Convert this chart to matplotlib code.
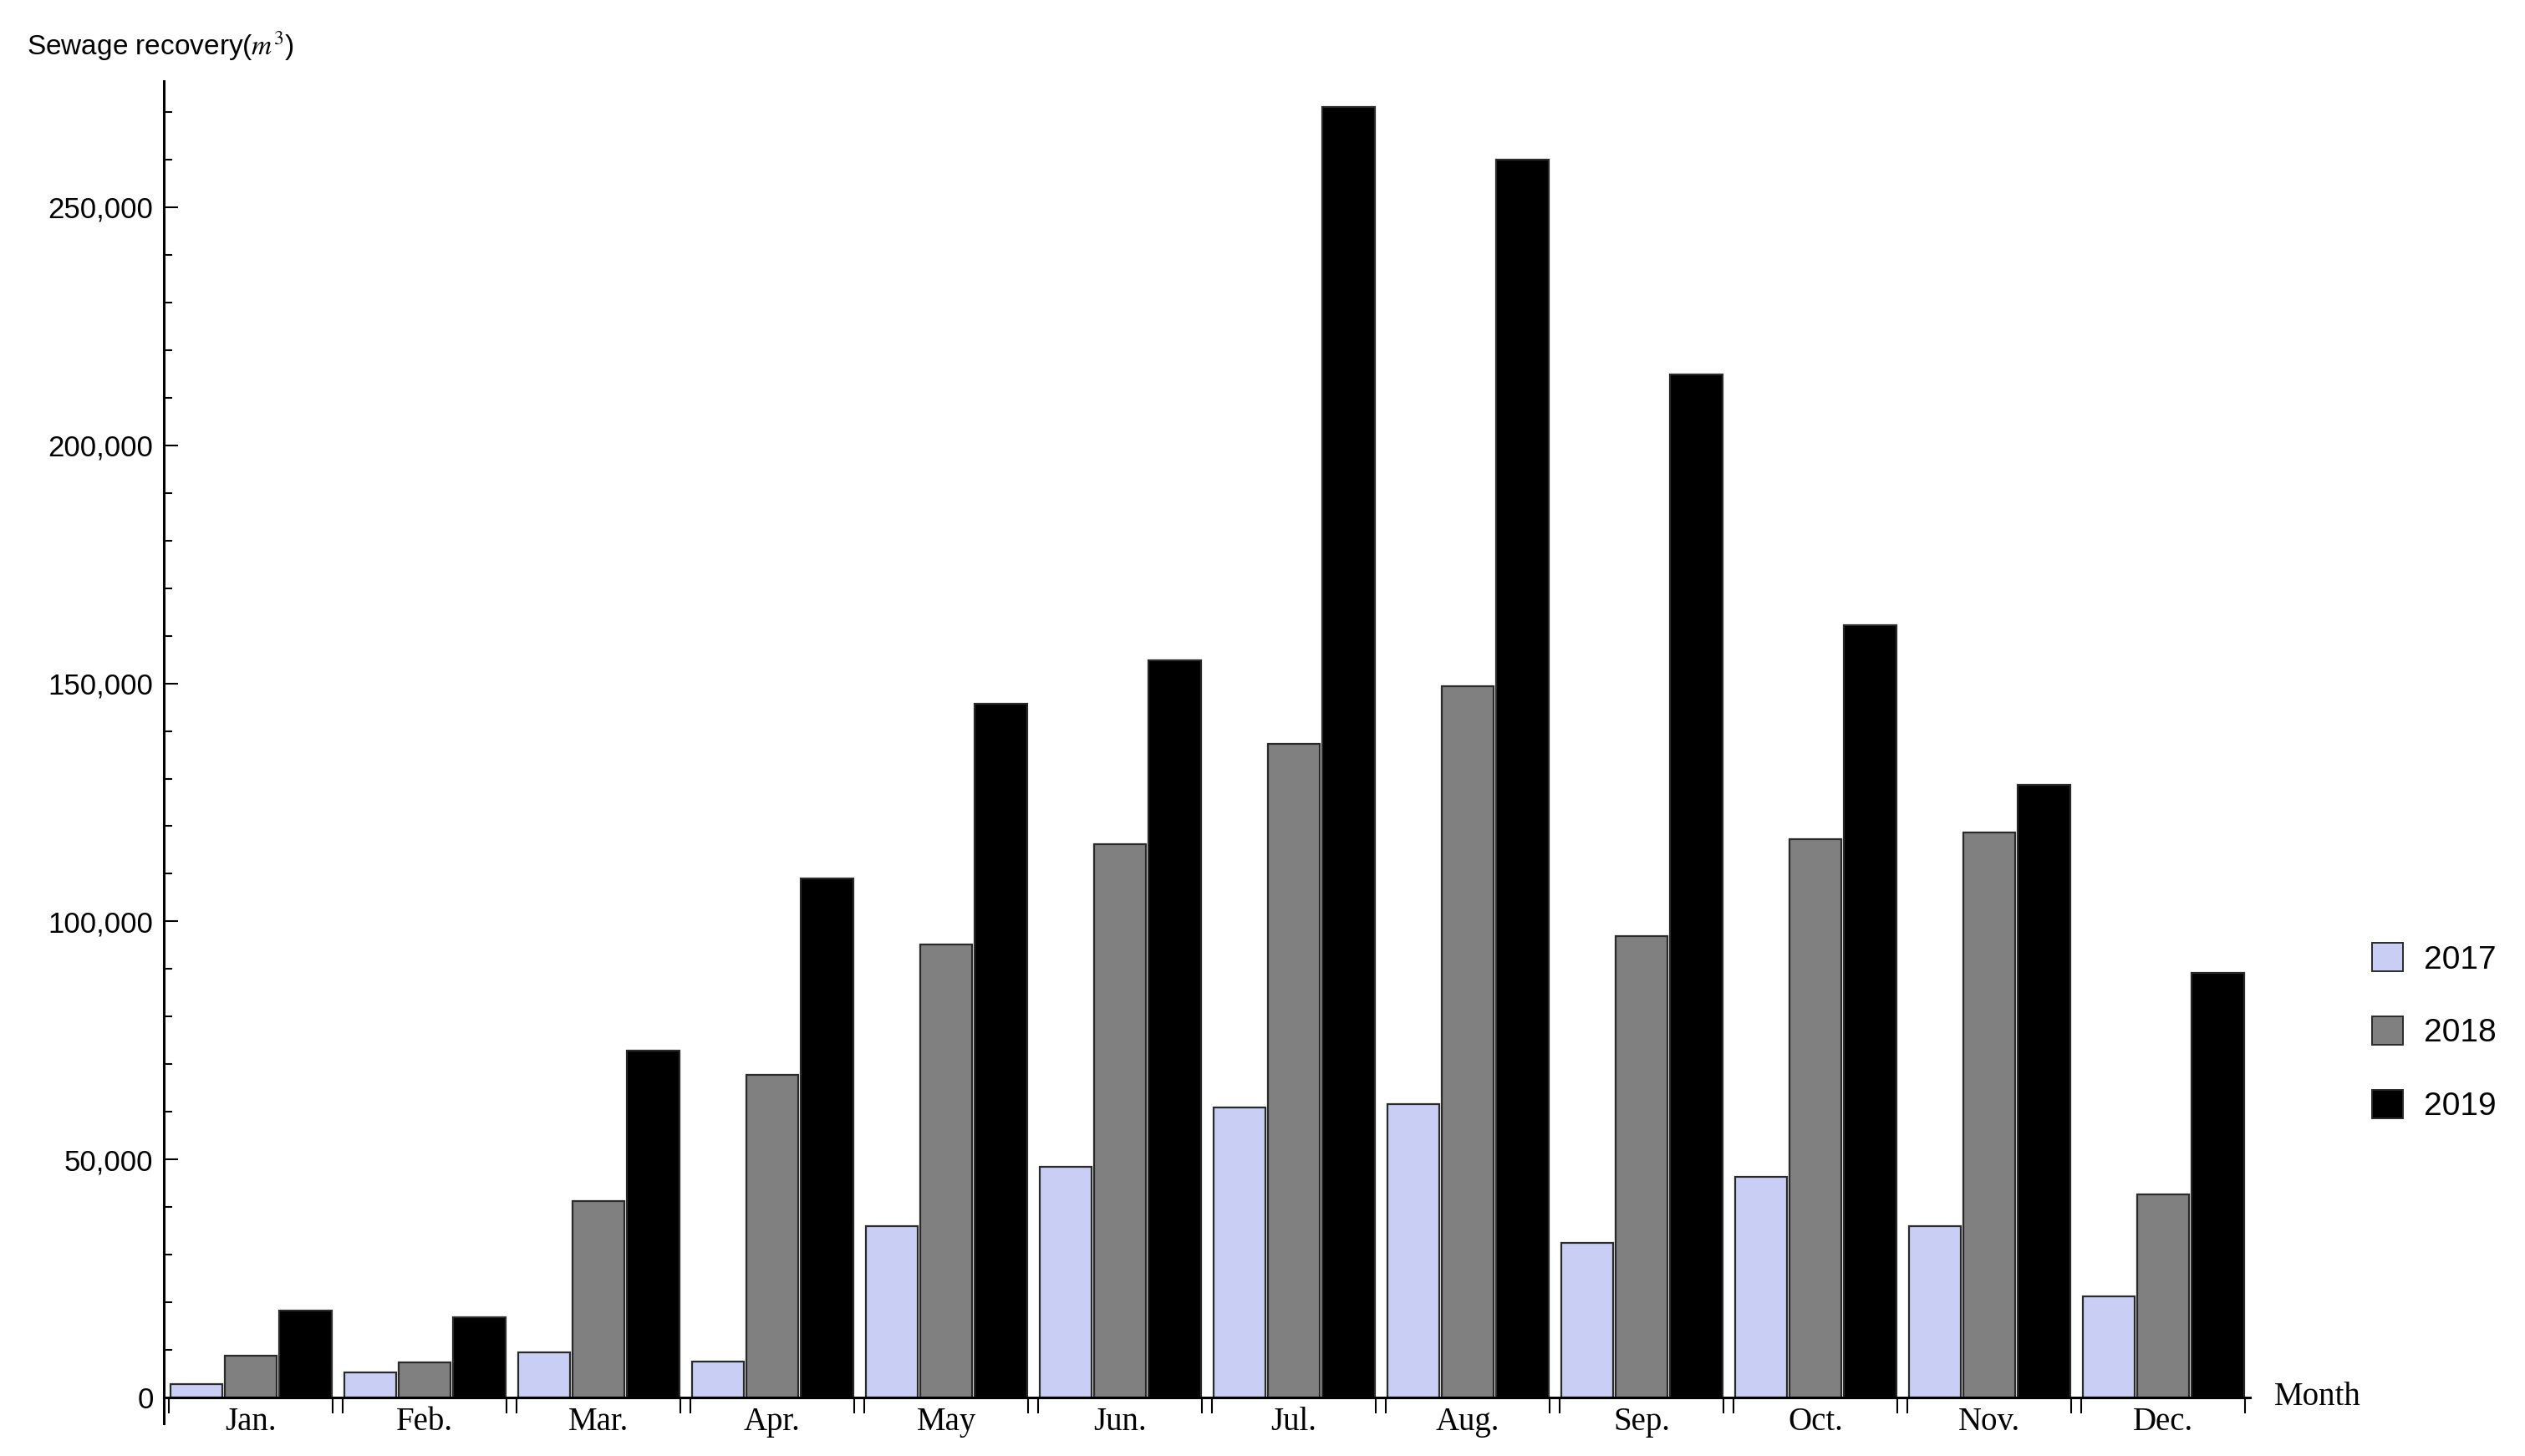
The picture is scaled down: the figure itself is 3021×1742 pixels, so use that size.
import numpy as np
import matplotlib
matplotlib.use("Agg")
import matplotlib.pyplot as plt
from matplotlib.patches import Patch
from matplotlib.ticker import MultipleLocator, StrMethodFormatter

# meses e valores (m3)
meses = ["Jan.", "Feb.", "Mar.", "Apr.", "May", "Jun.", "Jul.", "Aug.", "Sep.", "Oct.", "Nov.", "Dec."]
anos = ["2017", "2018", "2019"]

v2017 = [2800, 5300, 9500, 7500, 36000, 48400, 61000, 61700, 32500, 46400, 36000, 21300]
v2018 = [8800, 7400, 41300, 67800, 95200, 116200, 137200, 149400, 96900, 117200, 118600, 42700]
v2019 = [18200, 16900, 72800, 109000, 145700, 154800, 271000, 260000, 214800, 162300, 128700, 89100]

cores = ["#c9cef5", "#808080", "#000000"]

plt.rcParams["mathtext.fontset"] = "stix"

fig = plt.figure(figsize=(30.21, 17.42), dpi=100)
ax = fig.add_axes([0.0649, 0.0224, 0.8262, 0.9219])

x = np.arange(len(meses))
passo = 0.314
larg = 0.30
for k, (vals, cor) in enumerate(zip([v2017, v2018, v2019], cores)):
    ax.bar(x + (k - 1) * passo, vals, width=larg, color=cor,
           edgecolor="#2a2a2a", linewidth=1.6, zorder=2)

ax.set_xlim(-0.5, 11.5)
ax.set_ylim(-5440, 276500)

# eixos no estilo do Mathematica
ax.spines["top"].set_visible(False)
ax.spines["right"].set_visible(False)
ax.spines["bottom"].set_position(("data", 0))
ax.spines["left"].set_linewidth(2.2)
ax.spines["bottom"].set_linewidth(2.2)

ax.yaxis.set_major_locator(MultipleLocator(50000))
ax.yaxis.set_minor_locator(MultipleLocator(10000))
ax.yaxis.set_major_formatter(StrMethodFormatter("{x:,.0f}"))
ax.set_yticks([0, 50000, 100000, 150000, 200000, 250000])
ax.tick_params(axis="y", which="major", direction="in", length=12, width=1.5,
               pad=9, labelsize=25)
ax.tick_params(axis="y", which="minor", direction="in", length=7, width=1.5)
for t in ax.get_yticklabels():
    t.set_fontfamily("Liberation Sans")

ax.set_xticks(x)
ax.set_xticklabels(meses, fontfamily="Liberation Serif", fontsize=28)
bordas = np.concatenate([x - 0.471, x + 0.471])
ax.set_xticks(bordas, minor=True)
ax.tick_params(axis="x", which="major", length=0, pad=8)
ax.tick_params(axis="x", which="minor", direction="out", length=14, width=1.5)

ax.text(1.0116, 0, "Month", transform=ax.get_yaxis_transform(), va="center",
        ha="left", fontsize=28, fontfamily="Liberation Serif")
ax.text(-0.0657, 1.026, "Sewage recovery($m^3$)", transform=ax.transAxes,
        va="center", ha="left", fontsize=24, fontfamily="Liberation Sans")

handles = [Patch(facecolor=c, edgecolor="#2a2a2a", linewidth=1.4) for c in cores]
fig.legend(handles, anos, loc="upper left", bbox_to_anchor=(0.9331, 0.3634),
           frameon=False, borderpad=0, handlelength=0.95, handleheight=0.95,
           handletextpad=0.64, labelspacing=1.28,
           prop={"family": "Liberation Sans", "size": 28})

fig.savefig("out.png", dpi=100)
